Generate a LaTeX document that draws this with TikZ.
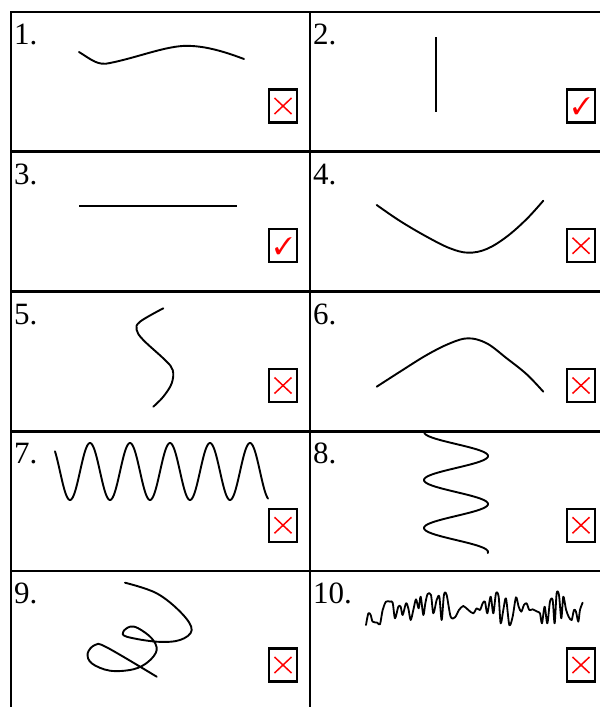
\documentclass[tikz,border=0pt]{standalone}
\usepackage{fontspec}
\setmainfont{Liberation Serif}
\usepackage{pifont}
\usepackage{xcolor}
\usepackage{tikz}
\usetikzlibrary{calc}
\definecolor{MarkRed}{HTML}{FF0000}

\begin{document}
\begin{tikzpicture}[
  x=1pt,y=-1pt,
  grid/.style={line width=2.6pt,draw=black},
  stroke/.style={line width=1.9pt,draw=black,line cap=round,line join=round},
  celllabel/.style={anchor=base west,inner sep=0pt,font=\fontsize{31}{31}\selectfont},
  markbox/.style={draw=black,line width=2.3pt,minimum width=28pt,minimum height=33pt,inner sep=0pt},
  xmark/.style={draw=MarkRed,line width=1.5pt},
  okmark/.style={text=MarkRed,inner sep=0pt,font=\fontsize{24}{24}\selectfont}
]
\useasboundingbox (0,0) rectangle (600,707);
% table rules
\foreach \r in {0,...,4}
  \draw[grid] (10,{12+139.75*\r}) -- (600,{12+139.75*\r});
\draw[grid] (11,11) -- (11,707);
\draw[grid] (310,11) -- (310,707);
% numbers and answer boxes
\foreach \n/\c/\r/\ok in {1/0/0/0,2/1/0/1,3/0/1/1,4/1/1/0,5/0/2/0,6/1/2/0,7/0/3/0,8/1/3/0,9/0/4/0,10/1/4/0}{
  \node[celllabel] (lab\n) at ({14+299*\c},{44.5+139.75*\r}) {\n.};
  \node[markbox] (box\n) at ({283+298*\c},{106+139.75*\r}) {};
  \ifnum\ok=1
    \node[okmark] (ok\n) at ([xshift=0.5pt]box\n.center) {\ding{51}};
  \else
    \draw[xmark] ($(box\n.center)+(-8.5,-8)$) -- ($(box\n.center)+(8.5,8)$);
    \draw[xmark] ($(box\n.center)+(-8.5,8)$) -- ($(box\n.center)+(8.5,-8)$);
  \fi
}
% 1: wavy stroke
\draw[stroke] (79,52) .. controls (92,60) and (98,66) .. (110,63)
  .. controls (140,57) and (170,44) .. (192,46)
  .. controls (210,47) and (228,53) .. (244,59);
% 2: vertical stroke
\draw[stroke,line cap=butt] (436,37) -- (436,112);
% 3: horizontal stroke
\draw[stroke,line cap=butt] (79,206) -- (237,206);
% 4: valley
\draw[stroke] plot[smooth,tension=0.6] coordinates {(376.7,205) (400,221) (426.7,236.7) (450,248.3) (468.3,252.7) (486.7,249) (506.7,236.7) (526.7,219) (543.3,200.7)};
% 5: bent stroke
\draw[stroke] plot[smooth,tension=0.6] coordinates {(163.3,308.3) (140,321.7) (136.7,330) (143.3,340) (165,360) (172.7,370) (171.7,383.3) (163.3,396.7) (153.3,406.7)};
% 6: hill
\draw[stroke] plot[smooth,tension=0.6] coordinates {(376.7,386.7) (400,371.7) (426.7,355) (450,343.3) (468.3,338.3) (486.7,343.3) (506.7,358.3) (526.7,374.3) (543.3,391.7)};
% 7: horizontal wave
\draw[stroke] plot[domain=55:268,samples=240] (\x,{471.5+28.5*sin(9*(\x-60))});
% 8: vertical wave
\draw[stroke] plot[domain=433:553,samples=200] ({456+32*sin(7.5*(\x-444))},\x);
% 9: loops
\draw[stroke] plot[smooth,tension=0.6] coordinates {(125,582.7) (156.7,593.3) (181.7,613.3) (191.7,630) (180,640) (156.7,641.7) (126.7,636.7) (123.3,631.7) (130,626.7) (138.3,628.3) (151.7,638.3) (156.7,650) (148.3,661.7) (133.3,669.3) (110,670.7) (91.7,663.3) (87.7,653.3) (95,645) (106.7,647.3) (156.7,676.7)};
% 10: jagged stroke
\begin{scope}[shift={(300,560)},x=0.3333pt,y=-0.3333pt]
\draw[stroke,line width=1.8pt] plot[smooth,tension=0.5] coordinates {(198,195) (205,160) (212,165) (218,185) (232,188) (240,193) (248,150) (258,125) (270,125) (278,128) (285,175) (295,140) (302,140) (308,165) (318,130) (325,145) (332,180) (340,150) (348,118) (356,145) (362,110) (370,165) (376,130) (383,102) (393,105) (400,160) (410,120) (418,110) (425,180) (432,104) (440,105) (452,170) (465,172) (477,150) (490,138) (505,150) (520,160) (530,145) (540,150) (548,130) (555,125) (562,160) (572,110) (580,160) (588,100) (596,110) (602,190) (610,150) (618,115) (628,195) (638,170) (648,112) (656,140) (664,155) (672,135) (680,130) (688,150) (698,148) (712,155) (720,160) (726,190) (734,140) (742,190) (750,125) (758,120) (764,190) (770,100) (777,105) (784,175) (790,110) (798,148) (806,170) (815,180) (822,150) (828,155) (835,185) (840,150) (848,128)};
\end{scope}
\end{tikzpicture}
\end{document}
